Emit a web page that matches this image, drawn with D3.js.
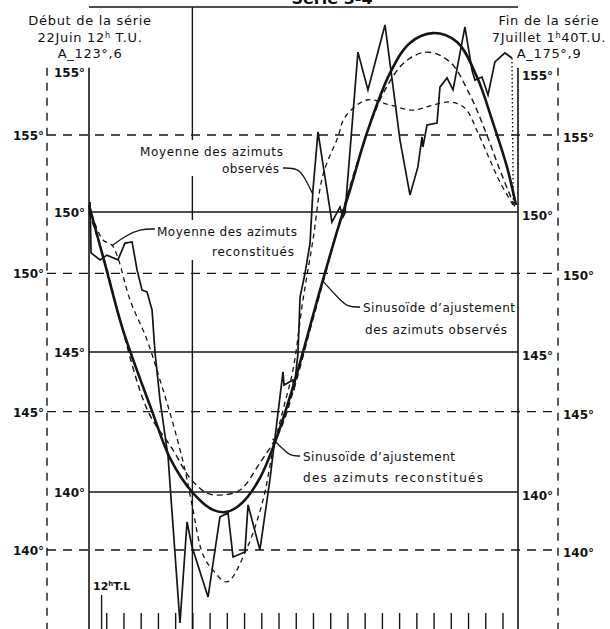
<!DOCTYPE html>
<html>
<head>
<meta charset="utf-8">
<script src="https://cdn.jsdelivr.net/npm/d3@7"></script>
<style>
body { margin: 0; background: #fff; }
svg text { font-family: "DejaVu Sans", sans-serif; fill: #111; }
.lbl { font-size: 12px; }
.hdr { font-size: 13px; }
.tick-lbl { font-size: 12px; font-weight: bold; }
</style>
</head>
<body>
<div id="main"></div>
<script>
var width = 610;
var height = 629;

// time in tick units (one bottom tick = 1), azimuth in degrees (solid scale)
var tickValues = d3.range(1, 25);
var solidTicks = [140, 145, 150, 155];
var dashedTicks = [140, 145, 150, 155];

// Moyenne des azimuts observés
var obsT = [0.06, 0.12, 0.64, 1.04, 1.68, 2.09, 2.50, 2.79, 3.08, 3.37, 3.66, 3.83, 4.12, 4.59, 5.28, 5.69, 5.98, 6.91, 7.60, 8.07, 8.36, 9.05, 9.23, 9.92, 10.50, 10.80, 11.26, 11.32, 11.84, 11.90, 12.13, 12.25, 12.54, 12.83, 13.00, 13.29, 14.10, 14.57, 14.74, 14.86, 15.61, 16.19, 17.18, 18.05, 18.63, 19.09, 19.33, 19.38, 19.62, 20.20, 20.37, 20.78, 21.13, 21.82, 22.23, 22.40, 22.81, 23.16, 23.56, 24.14, 24.55];
var obsV = [150.36, 148.54, 148.29, 148.46, 148.29, 148.89, 148.93, 147.93, 147.21, 147.14, 146.50, 145.00, 143.29, 141.25, 135.32, 138.93, 138.04, 136.25, 139.11, 139.25, 137.68, 137.86, 139.54, 137.93, 140.43, 141.96, 144.29, 143.82, 144.00, 143.64, 144.96, 146.96, 147.82, 148.89, 150.79, 152.86, 149.64, 150.18, 149.82, 149.96, 155.71, 154.36, 156.68, 152.57, 150.61, 151.61, 152.68, 152.32, 153.11, 153.18, 154.46, 154.79, 154.36, 156.61, 155.07, 154.71, 154.82, 154.18, 155.36, 155.68, 155.50];
var obsEndV = 150.25;

// Moyenne des azimuts reconstitués
var recT = [0.17, 0.81, 1.33, 1.68, 2.38, 3.37, 4.12, 4.82, 5.57, 5.98, 6.62, 7.20, 8.01, 9.17, 10.10, 10.68, 11.26, 11.84, 12.42, 13.00, 13.58, 14.45, 14.86, 16.13, 17.47, 18.80, 19.79, 20.95, 21.82, 22.58, 23.27, 23.85, 24.61];
var recV = [149.89, 149.00, 148.82, 148.36, 146.86, 145.43, 144.00, 142.57, 140.79, 139.54, 137.75, 137.21, 136.79, 138.00, 139.71, 141.50, 142.93, 144.36, 146.86, 149.00, 151.32, 152.68, 153.39, 154.00, 153.82, 153.64, 153.79, 153.93, 153.71, 152.82, 151.86, 151.07, 150.25];

// Sinusoïde d'ajustement des azimuts observés
var sinObsT = [0, 0.99, 1.97, 3.66, 4.70, 6.04, 7.20, 8.01, 8.88, 9.92, 10.80, 11.84, 13.41, 14.39, 15.15, 16.13, 17.47, 18.63, 19.97, 21.36, 22.52, 23.45, 24.26, 24.78];
var sinObsV = [150.25, 148.00, 145.79, 142.89, 141.21, 139.96, 139.36, 139.29, 139.61, 140.50, 141.79, 143.75, 147.21, 149.29, 150.79, 152.82, 154.96, 156.04, 156.39, 156.07, 154.82, 153.18, 151.61, 150.25];

// Sinusoïde d'ajustement des azimuts reconstitués
var sinRecT = [0, 0.93, 1.80, 3.42, 4.88, 5.86, 6.85, 7.60, 8.76, 9.92, 11.09, 11.96, 12.83, 13.70, 14.57, 15.44, 16.31, 17.18, 18.34, 19.62, 20.95, 22.11, 22.98, 23.85, 24.72];
var sinRecV = [150.00, 148.21, 146.14, 142.89, 141.50, 140.50, 139.96, 139.89, 140.07, 141.04, 142.21, 143.82, 145.79, 147.75, 149.71, 151.50, 153.11, 154.36, 155.36, 155.71, 155.36, 154.18, 152.93, 151.50, 150.18];

var x = d3.scaleLinear().domain([0, 24.9]).range([89, 518]);
var yS = d3.scaleLinear().domain([140, 155]).range([492, 72]);
var yD = d3.scaleLinear().domain([140, 155]).range([550, 135]);

var ink = '#151515';

var svg = d3.select('#main').append('svg')
    .attr('width', width)
    .attr('height', height);

function pts(ts, vs) {
    return ts.map(function(t, i) { return [t, vs[i]]; });
}

// header rule and title (cut by the top edge, as in the scan)
svg.append('line')
    .attr('x1', x(0)).attr('x2', x(24.9))
    .attr('y1', 7).attr('y2', 7)
    .attr('stroke', ink).attr('stroke-width', 1.6);

svg.append('text')
    .attr('x', 332).attr('y', 4)
    .attr('text-anchor', 'middle')
    .style('font-size', '16px').style('font-weight', 'bold')
    .text('Série 3-4');

// vertical rule at tick 6
svg.append('line')
    .attr('x1', x(6)).attr('x2', x(6))
    .attr('y1', 7).attr('y2', height)
    .attr('stroke', ink).attr('stroke-width', 1.4);

// solid axes
[0, 24.9].forEach(function(t) {
    svg.append('line')
        .attr('x1', x(t)).attr('x2', x(t))
        .attr('y1', yS(155.15)).attr('y2', height)
        .attr('stroke', ink).attr('stroke-width', 1.6);
});

// dashed axes
[47, 558].forEach(function(px) {
    svg.append('line')
        .attr('x1', px).attr('x2', px)
        .attr('y1', yS(155.15)).attr('y2', height)
        .attr('stroke', ink).attr('stroke-width', 1.4)
        .attr('stroke-dasharray', '8,7');
});

// solid grid
svg.selectAll('.sgrid')
    .data([140, 145, 150])
    .enter().append('line')
    .attr('class', 'sgrid')
    .attr('x1', x(0)).attr('x2', x(24.9))
    .attr('y1', function(d) { return yS(d); })
    .attr('y2', function(d) { return yS(d); })
    .attr('stroke', ink).attr('stroke-width', 1.4);

// dashed grid
svg.selectAll('.dgrid')
    .data(dashedTicks)
    .enter().append('line')
    .attr('class', 'dgrid')
    .attr('x1', 47).attr('x2', 558)
    .attr('y1', function(d) { return yD(d); })
    .attr('y2', function(d) { return yD(d); })
    .attr('stroke', ink).attr('stroke-width', 1.4)
    .attr('stroke-dasharray', '9,7');

// tick labels
svg.selectAll('.sl')
    .data(solidTicks)
    .enter().append('text')
    .attr('class', 'tick-lbl')
    .attr('x', 85)
    .attr('y', function(d) { return yS(d) + 5; })
    .attr('text-anchor', 'end')
    .text(function(d) { return d + '°'; });

svg.selectAll('.sr')
    .data(solidTicks)
    .enter().append('text')
    .attr('class', 'tick-lbl')
    .attr('x', 522)
    .attr('y', function(d) { return yS(d) + 8; })
    .text(function(d) { return d + '°'; });

svg.selectAll('.dl')
    .data(dashedTicks)
    .enter().append('text')
    .attr('class', 'tick-lbl')
    .attr('x', 44)
    .attr('y', function(d) { return yD(d) + 5; })
    .attr('text-anchor', 'end')
    .text(function(d) { return d + '°'; });

svg.selectAll('.dr')
    .data(dashedTicks)
    .enter().append('text')
    .attr('class', 'tick-lbl')
    .attr('x', 563)
    .attr('y', function(d) { return yD(d) + 7; })
    .text(function(d) { return d + '°'; });

// bottom ticks
var xAxis = d3.axisTop(x).tickValues(tickValues).tickSize(16).tickFormat('');
var gx = svg.append('g')
    .attr('transform', 'translate(0,' + height + ')')
    .call(xAxis);
gx.select('.domain').remove();
gx.selectAll('line').attr('stroke', ink).attr('stroke-width', 1.4);

svg.append('line')
    .attr('x1', x(0.73)).attr('x2', x(0.73))
    .attr('y1', 595).attr('y2', height)
    .attr('stroke', ink).attr('stroke-width', 1.4);

var tl = svg.append('text')
    .attr('x', 93).attr('y', 590)
    .style('font-size', '11px').style('font-weight', 'bold');
tl.append('tspan').text('12');
tl.append('tspan').attr('dy', -4).style('font-size', '7px').text('h');
tl.append('tspan').attr('dy', 4).text('T.L');

// white boxes behind the annotations
var boxes = [[135, 140, 152, 36], [150, 220, 152, 40]];
boxes.forEach(function(b) {
    svg.append('rect')
        .attr('x', b[0]).attr('y', b[1])
        .attr('width', b[2]).attr('height', b[3])
        .attr('fill', '#fff');
});

// curves
var line = d3.line()
    .x(function(d) { return x(d[0]); })
    .y(function(d) { return yS(d[1]); });
var smooth = d3.line()
    .x(function(d) { return x(d[0]); })
    .y(function(d) { return yS(d[1]); })
    .curve(d3.curveCatmullRom.alpha(0.5));

svg.append('path')
    .datum(pts(sinRecT, sinRecV))
    .attr('d', smooth)
    .attr('fill', 'none').attr('stroke', ink)
    .attr('stroke-width', 1.4).attr('stroke-dasharray', '6,4');

svg.append('path')
    .datum(pts(recT, recV))
    .attr('d', smooth)
    .attr('fill', 'none').attr('stroke', ink)
    .attr('stroke-width', 1.3).attr('stroke-dasharray', '5,4');

svg.append('path')
    .datum(pts(sinObsT, sinObsV))
    .attr('d', smooth)
    .attr('fill', 'none').attr('stroke', ink)
    .attr('stroke-width', 2.6);

svg.append('path')
    .datum(pts(obsT, obsV))
    .attr('d', line)
    .attr('fill', 'none').attr('stroke', ink)
    .attr('stroke-width', 1.7).attr('stroke-linejoin', 'miter');

// dotted closing line to the end of the series
var lastT = obsT[obsT.length - 1];
svg.append('path')
    .datum([[lastT, obsV[obsV.length - 1]], [lastT + 0.08, obsEndV]])
    .attr('d', line)
    .attr('fill', 'none').attr('stroke', ink)
    .attr('stroke-width', 1.4).attr('stroke-dasharray', '1.5,2.5');

// header texts
function block(cx, lines) {
    lines.forEach(function(l) {
        var t = svg.append('text')
            .attr('x', cx).attr('y', l.y)
            .attr('text-anchor', 'middle')
            .attr('class', 'hdr')
            .style('letter-spacing', '0.7px');
        l.parts.forEach(function(p) {
            var s = t.append('tspan').text(p[0]);
            if (p[1] === 'sup') s.attr('dy', -4).style('font-size', '8px');
            if (p[1] === 'down') s.attr('dy', 4);
        });
    });
}
block(90, [
    {y: 25, parts: [['Début de la série']]},
    {y: 42, parts: [['22Juin 12'], ['h', 'sup'], [' T.U.', 'down']]},
    {y: 58, parts: [['A_123°,6']]}
]);
block(549, [
    {y: 25, parts: [['Fin de la série']]},
    {y: 42, parts: [['7Juillet 1'], ['h', 'sup'], ['40T.U.', 'down']]},
    {y: 58, parts: [['A_175°,9']]}
]);

// annotations
function label(px, py, txt, w, anchor) {
    svg.append('text')
        .attr('class', 'lbl')
        .attr('x', px).attr('y', py)
        .attr('text-anchor', anchor || 'start')
        .attr('textLength', w).attr('lengthAdjust', 'spacing')
        .text(txt);
}
label(140, 156, 'Moyenne des azimuts', 143);
label(222, 173, 'observés', 57);
label(157, 236, 'Moyenne des azimuts', 140);
label(212, 256, 'reconstitués', 82);
label(363, 312, 'Sinusoïde d\u2019ajustement', 152);
label(365, 334, 'des azimuts observés', 142);
label(303, 461, 'Sinusoïde d\u2019ajustement', 152);
label(303, 482, 'des azimuts reconstitués', 180);

var leader = d3.line().curve(d3.curveBasis);
function lead(points) {
    svg.append('path')
        .attr('d', leader(points))
        .attr('fill', 'none').attr('stroke', ink).attr('stroke-width', 1.3);
}
lead([[283, 168], [298, 168], [305, 178], [x(12.98), yS(150.65)]]);
lead([[155, 229], [140, 229], [125, 236], [x(1.35), yS(148.8)]]);
lead([[360, 307], [348, 307], [340, 300], [x(13.55), yS(147.55)]]);
lead([[300, 456], [290, 456], [282, 448], [x(10.65), yS(141.9)]]);
</script>
</body>
</html>
